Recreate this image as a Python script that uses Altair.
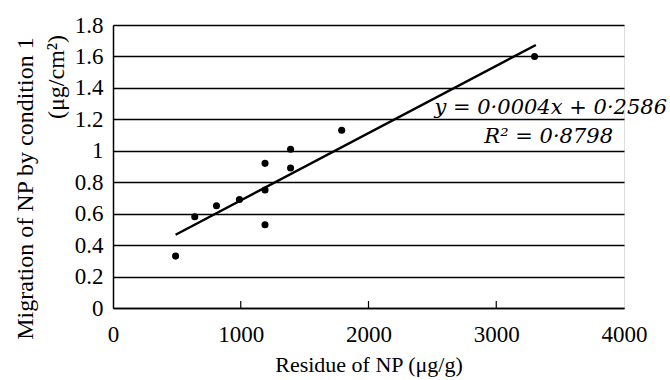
import altair as alt
import pandas as pd

# Data
residue = [490, 640, 810, 990, 1190, 1190, 1190, 1390, 1390, 1790, 3300]
migration = [0.33, 0.58, 0.65, 0.69, 0.92, 0.75, 0.53, 1.01, 0.89, 1.13, 1.60]

trend_x = [490, 3310]
trend_y = [0.466, 1.673]

x_ticks = [0, 1000, 2000, 3000, 4000]
y_ticks = [0, 0.2, 0.4, 0.6, 0.8, 1.0, 1.2, 1.4, 1.6, 1.8]
inner_ticks = [1000, 2000, 3000]

eq_text = "y = 0·0004x + 0·2586"
r2_text = "R² = 0·8798"
y_title_1 = "Migration of NP by condition 1"
y_title_2 = "(μg/cm²)"
x_title = "Residue of NP (μg/g)"

W, H = 511, 283
FONT = "Liberation Serif, Times New Roman, serif"

pts = pd.DataFrame({"x": residue, "y": migration})
trend = pd.DataFrame({"x": trend_x, "y": trend_y})
ticks_df = pd.DataFrame({"x": inner_ticks, "y": [0] * len(inner_ticks)})

xscale = alt.Scale(domain=[0, 4000], nice=False, zero=True)
yscale = alt.Scale(domain=[0, 1.8], nice=False, zero=True)

xaxis = alt.Axis(
    values=x_ticks, format="d", grid=False, ticks=False,
    domainColor="black", domainWidth=1.5, labelOverlap=False,
    labelFont=FONT, labelFontSize=23, labelColor="black", labelPadding=15,
    labelFlush=False,
    title=x_title, titleFont=FONT, titleFontSize=22, titleFontWeight="normal",
    titleColor="black", titleBaseline="middle", titleY=56,
)
yaxis = alt.Axis(
    values=y_ticks, format="~g", grid=True, gridColor="black", gridWidth=1.4,
    gridOpacity=1, ticks=False, domainColor="black", domainWidth=1.5,
    labelOverlap=False,
    labelFont=FONT, labelFontSize=23, labelColor="black", labelPadding=10,
    labelFlush=False,
    title=y_title_1, titleFont=FONT, titleFontSize=24, titleFontWeight="normal",
    titleColor="black", titleAngle=270, titleAlign="center",
    titleBaseline="middle", titleX=-88, titleY=163,
)

X = alt.X("x:Q", scale=xscale, axis=xaxis)
Y = alt.Y("y:Q", scale=yscale, axis=yaxis)

points = alt.Chart(pts).mark_circle(size=50, color="black", opacity=1).encode(
    x=X, y=Y,
)

line = alt.Chart(trend).mark_line(color="black", strokeWidth=2.4).encode(
    x=X, y=Y,
)

inner = alt.Chart(ticks_df).mark_rule(color="black", strokeWidth=1.2).encode(
    x=X,
    y=alt.value(H),
    y2=alt.value(H - 7),
)

eq = alt.Chart(pd.DataFrame({"t": [eq_text]})).mark_text(
    font="DejaVu Serif", fontStyle="italic", fontSize=21, align="right",
    baseline="middle", color="black",
).encode(text="t:N", x=alt.value(554), y=alt.value(83))

r2 = alt.Chart(pd.DataFrame({"t": [r2_text]})).mark_text(
    font="DejaVu Serif", fontStyle="italic", fontSize=21, align="right",
    baseline="middle", color="black",
).encode(text="t:N", x=alt.value(500), y=alt.value(112))

ytitle2 = alt.Chart(pd.DataFrame({"t": [y_title_2]})).mark_text(
    font=FONT, fontSize=24, angle=270, align="center", baseline="middle",
    color="black",
).encode(text="t:N", x=alt.value(-56), y=alt.value(52))

chart = alt.layer(points, line, inner, eq, r2, ytitle2).properties(
    width=W, height=H,
    autosize=alt.AutoSizeParams(type="none"),
    padding={"left": 113, "top": 25, "right": 46, "bottom": 72},
).configure_view(stroke=None).configure(background="white")

chart.save("out.html", embed_options={"renderer": "svg", "actions": False})
